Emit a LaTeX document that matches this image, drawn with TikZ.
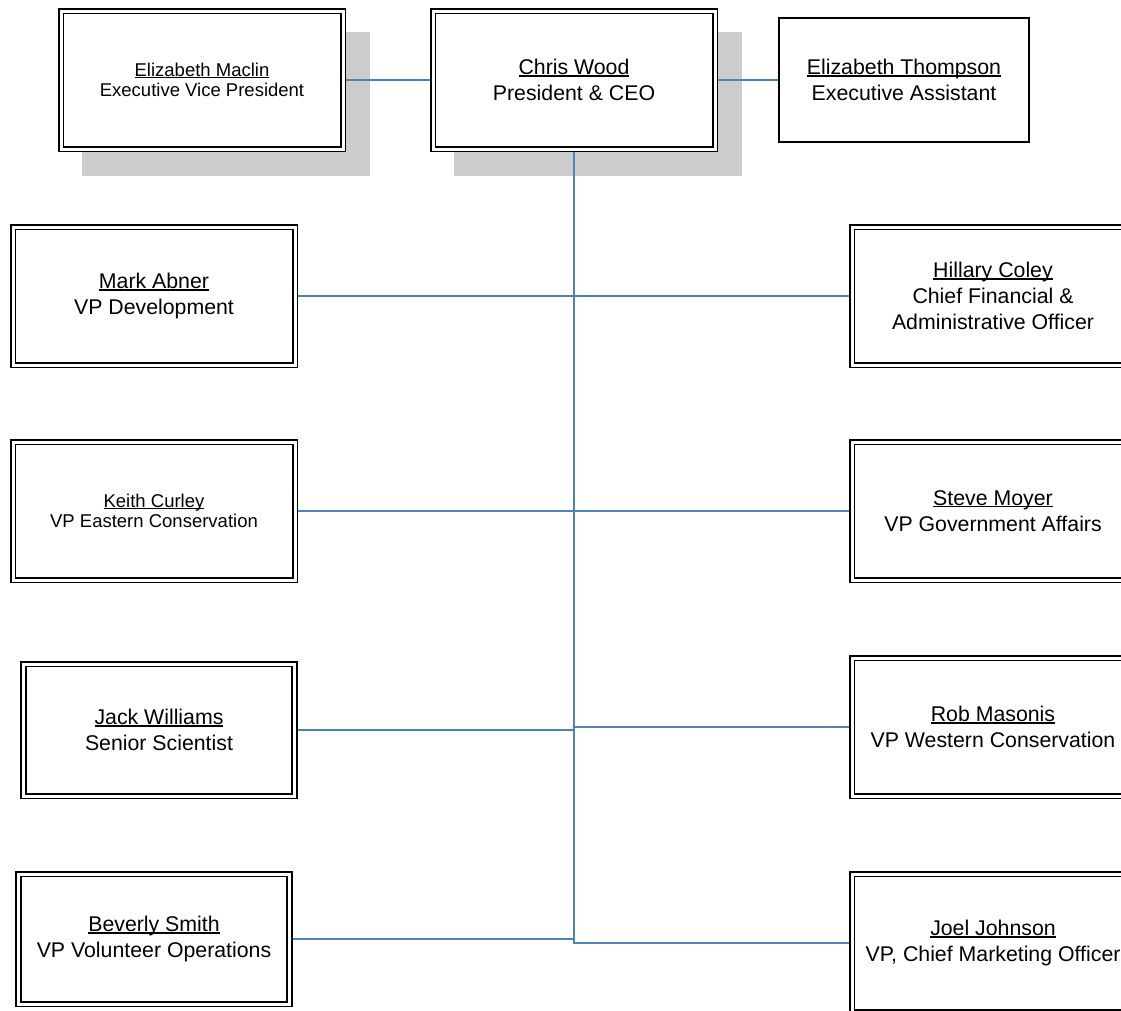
\documentclass[tikz,border=0pt]{standalone}
\usepackage{fontspec}
\setmainfont{Liberation Sans}
\usetikzlibrary{shadows}

\definecolor{linkblue}{RGB}{79,129,189}
\definecolor{shadowgray}{RGB}{204,204,204}

% underline that sits just under the baseline, like the original
\newcommand{\nm}[1]{\setbox0\hbox{#1}\rlap{\rule[-0.1em]{\wd0}{0.06em}}\box0}

\tikzset{
    person/.style={draw, line width=1.9pt, double=white, double distance=3pt, fill=white,
        inner sep=0pt, outer sep=3.4pt, align=center, minimum width=282pt, minimum height=138pt},
    single/.style={draw, line width=1.5pt, fill=white, inner sep=0pt, align=center,
        minimum width=250pt, minimum height=124pt},
    bigtxt/.style={font=\fontsize{21.3}{26}\selectfont},
    smalltxt/.style={font=\fontsize{18.5}{20.5}\selectfont},
    shade/.style={drop shadow={shadow xshift=24pt, shadow yshift=-24pt, fill=shadowgray,
        draw=shadowgray, line width=6.8pt, opacity=1}},
    link/.style={linkblue, line width=2pt}
}

\begin{document}
\begin{tikzpicture}[x=1pt, y=-1pt]
    \useasboundingbox (0,0) rectangle (1121,1010);

    % top row
    \node [person, shade, smalltxt] (maclin) at (202, 80) {\nm{Elizabeth Maclin}\\Executive Vice President};
    \node [person, shade, bigtxt] (wood) at (574, 80) {\nm{Chris Wood}\\President \& CEO};
    \node [single, bigtxt] (thompson) at (904, 80) {\nm{Elizabeth Thompson}\\Executive Assistant};

    % left column
    \node [person, bigtxt] (abner) at (154, 296) {\nm{Mark Abner}\\VP Development};
    \node [person, smalltxt] (curley) at (154, 511) {\nm{Keith Curley}\\VP Eastern Conservation};
    \node [person, bigtxt, minimum width=271pt, minimum height=132pt] (williams) at (159, 730) {\nm{Jack Williams}\\Senior Scientist};
    \node [person, bigtxt, minimum width=271pt, minimum height=130pt] (smith) at (154, 939) {\nm{Beverly Smith}\\VP Volunteer Operations};

    % right column, runs off the page on purpose
    \node [person, bigtxt] (coley) at (993, 296) {\nm{Hillary Coley}\\Chief Financial \&\\Administrative Officer};
    \node [person, bigtxt] (moyer) at (993, 511) {\nm{Steve Moyer}\\VP Government Affairs};
    \node [person, bigtxt] (masonis) at (993, 727) {\nm{Rob Masonis}\\VP Western Conservation};
    \node [person, bigtxt] (johnson) at (993, 943) {\nm{Joel Johnson}\\VP, Chief Marketing Officer};

    % the lines
    \draw [link] (maclin) -- (wood);
    \draw [link] (wood) -- (thompson);
    \draw [link] (wood.south) |- (johnson.west);

    \draw [link] (abner) -- (coley);
    \draw [link] (curley) -- (moyer);
    \draw [link] (williams.east) -- (williams.east -| wood.south);
    \draw [link] (masonis.west) -- (masonis.west -| wood.south);
    \draw [link] (smith.east) -- (smith.east -| wood.south);
\end{tikzpicture}
\end{document}
